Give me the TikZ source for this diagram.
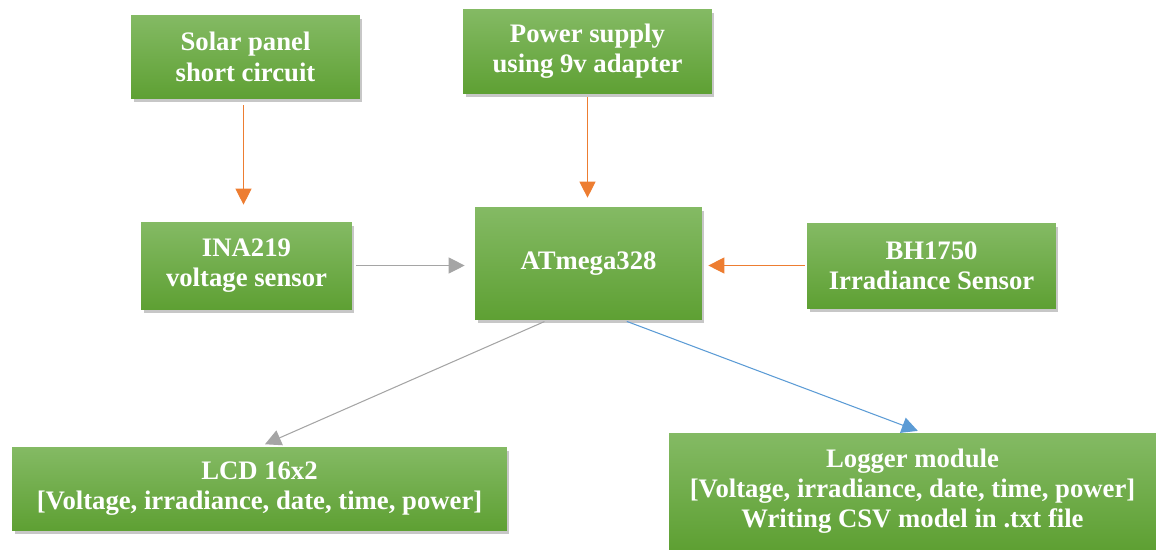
\documentclass[tikz,border=0pt]{standalone}
\usepackage{fontspec}
\setmainfont{Liberation Serif}
\usepackage{xcolor}
\usepackage{tikz}
\usetikzlibrary{positioning,calc,shadows,arrows.meta}

\definecolor{boxtop}{HTML}{84BA64}
\definecolor{boxbot}{HTML}{5EA033}
\definecolor{arrorange}{HTML}{ED7D31}
\definecolor{arrgray}{HTML}{A5A5A5}
\definecolor{arrblue}{HTML}{5B9BD5}

\begin{document}
\begin{tikzpicture}[x=0.02cm, y={(0,-0.02cm)},
    block/.style={rectangle, top color=boxtop, bottom color=boxbot, draw=none,
        text=white, align=center, font=\fontsize{15.2}{17.2}\selectfont\bfseries,
        drop shadow={shadow xshift=0.5mm, shadow yshift=-0.7mm, fill=black, opacity=0.22}},
    link/.style={-{Triangle[length=3.2mm, width=3.2mm]}, line width=0.6pt}]
    \useasboundingbox (0,0) rectangle (1156,549);

    % Top row
    \node[block, minimum width=4.58cm, minimum height=1.68cm] (solar) at (245.5,57) {Solar panel\\short circuit};
    \node[block, minimum width=4.98cm, minimum height=1.7cm] (power) at (587.5,51.5) {Power supply\\using 9v adapter};

    % Middle row
    \node[block, minimum width=4.22cm, minimum height=1.74cm] (ina) at (246.5,265.5) {INA219\\voltage sensor};
    \node[block, minimum width=4.54cm, minimum height=2.26cm] (atmega) at (588.5,263.5) {ATmega328};
    \node[block, minimum width=4.98cm, minimum height=1.7cm] (bh) at (931.5,265.5) {BH1750\\Irradiance Sensor};

    % Bottom row
    \node[block, minimum width=9.9cm, minimum height=1.66cm] (lcd) at (259.5,488.5) {LCD 16x2\\{}[Voltage, irradiance, date, time, power]};
    \node[block, minimum width=9.74cm, minimum height=2.32cm] (logger) at (912.5,491) {Logger module\\{}[Voltage, irradiance, date, time, power]\\Writing CSV model in .txt file};

    % Connections
    \draw[link, arrorange, shorten <=1.2mm, shorten >=3.4mm] ($(solar.south)+(-2,0)$) -- ($(ina.north)+(-3,0)$);
    \draw[link, arrorange, shorten <=0.6mm, shorten >=1.8mm] (power.south) -- (power.south |- atmega.north);
    \draw[link, arrgray, shorten <=0.8mm, shorten >=2mm] (ina.east) -- (atmega.west |- ina.east);
    \draw[link, arrorange, shorten <=0.4mm, shorten >=1.2mm] (bh.west) -- (atmega.east |- bh.west);
    \draw[link, arrgray, shorten <=0.6mm, shorten >=1.2mm] (atmega.-126) -- (lcd.north);
    \draw[link, arrblue, shorten <=0.6mm, shorten >=1mm] (atmega.-58.5) -- ($(logger.north)+(10,0)$);
\end{tikzpicture}
\end{document}
